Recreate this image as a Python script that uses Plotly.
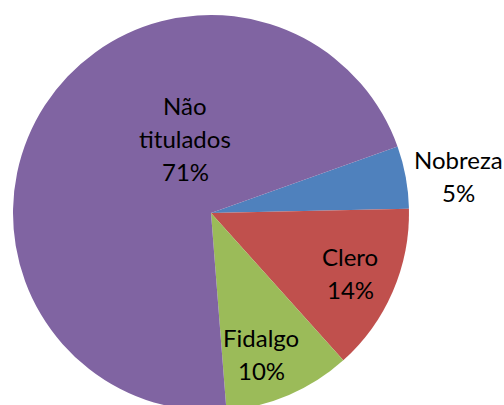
import plotly.graph_objects as go

# ---- data ----
categories = ["Nobreza", "Clero", "Fidalgo", "Não titulados"]
shares = [5.1, 13.7, 10.4, 70.8]
colors = ["#4F81BD", "#C0504D", "#9BBB59", "#8064A2"]

# ---- layout constants ----
W, H = 504, 420
cx, cy, r = 211, 213, 198
# label anchor (center x, first line cap-center y) in pixels
label_pos = [(458, 159.5), (350, 256), (261, 337.5), (185, 105)]
line_gap = 33
font_family = "Lato, 'Open Sans', sans-serif"
font_size = 24

fig = go.Figure(go.Pie(
    labels=categories,
    values=shares,
    sort=False,
    direction="clockwise",
    rotation=70.4,
    marker=dict(colors=colors, line=dict(width=0)),
    textinfo="none",
    hoverinfo="label+percent",
    showlegend=False,
    domain=dict(x=[(cx - r) / W, (cx + r) / W],
                y=[(H - (cy + r)) / H, (H - (cy - r)) / H]),
))

total = sum(shares)
annotations = []
for name, val, (px, py) in zip(categories, shares, label_pos):
    lines = name.split(" ") + [f"{round(val / total * 100)}%"]
    for i, line in enumerate(lines):
        annotations.append(dict(
            x=px / W, y=(H - (py + i * line_gap)) / H,
            xref="paper", yref="paper",
            xanchor="center", yanchor="middle",
            text=line, showarrow=False,
            font=dict(family=font_family, size=font_size, color="#000000"),
        ))

fig.update_layout(
    width=W, height=H,
    margin=dict(l=0, r=0, t=0, b=0),
    paper_bgcolor="white",
    plot_bgcolor="white",
    annotations=annotations,
)

fig.write_html("out.html",
               config={"displayModeBar": False},
               post_script="document.body.style.margin='0';document.body.style.overflow='hidden';")
